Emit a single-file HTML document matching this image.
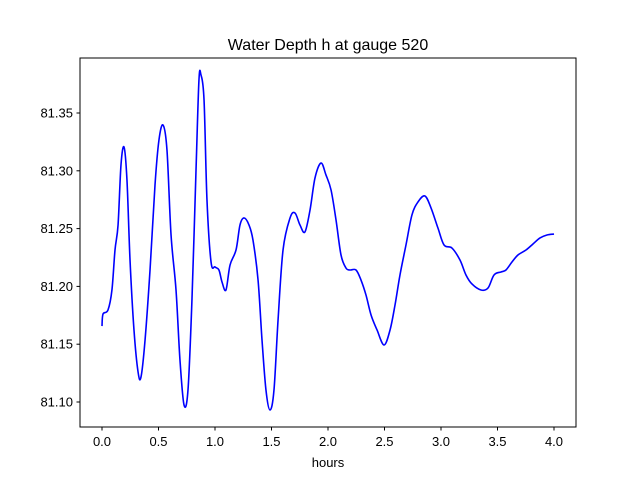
<!DOCTYPE html>
<html><head><meta charset="utf-8"><style>
body{margin:0;background:#fff;font-family:"Liberation Sans","DejaVu Sans",sans-serif;}
svg{display:block}
</style></head><body>
<svg id="chart" width="640" height="480" xmlns="http://www.w3.org/2000/svg">
<rect width="640" height="480" fill="#fff"/>
<text x="328" y="50" font-size="16" text-anchor="middle" fill="#000">Water Depth h at gauge 520</text>
<g id="xticks"></g>
<g id="yticks"></g>
<path id="line" fill="none" stroke="#0000ff" stroke-width="1.6"/>
<rect x="80" y="58" width="496" height="369" fill="none" stroke="#000" stroke-width="1"/>
<text x="328" y="467" font-size="13" text-anchor="middle">hours</text>
</svg>
<script>
const hours=[0,0.009,0.053,0.088,0.115,0.142,0.168,0.195,0.221,0.248,0.283,0.319,0.345,0.381,0.425,0.469,0.504,0.540,0.575,0.611,0.655,0.690,0.726,0.761,0.796,0.832,0.858,0.876,0.903,0.929,0.965,1.000,1.035,1.062,1.097,1.133,1.186,1.221,1.257,1.301,1.336,1.381,1.416,1.451,1.487,1.522,1.558,1.602,1.664,1.708,1.752,1.796,1.841,1.885,1.938,1.982,2.027,2.071,2.115,2.159,2.195,2.248,2.292,2.336,2.381,2.434,2.496,2.549,2.593,2.637,2.690,2.743,2.796,2.858,2.912,2.973,3.027,3.097,3.168,3.221,3.274,3.354,3.416,3.469,3.531,3.575,3.628,3.681,3.752,3.814,3.876,3.938,4.000];
const depth=[81.1657,81.1761,81.1796,81.1969,81.2315,81.2531,81.3050,81.3206,81.2920,81.2228,81.1623,81.1260,81.1216,81.1536,81.2142,81.2877,81.3266,81.3396,81.3180,81.2445,81.1969,81.1363,81.0974,81.1104,81.1882,81.3007,81.3785,81.3829,81.3612,81.2747,81.2211,81.2168,81.2142,81.2038,81.1969,81.2185,81.2315,81.2531,81.2592,81.2531,81.2401,81.2055,81.1536,81.1104,81.0931,81.1104,81.1709,81.2315,81.2592,81.2635,81.2531,81.2471,81.2661,81.2938,81.3067,81.2964,81.2834,81.2574,81.2272,81.2159,81.2142,81.2142,81.2055,81.1926,81.1753,81.1623,81.1493,81.1623,81.1839,81.2099,81.2358,81.2618,81.2730,81.2782,81.2678,81.2505,81.2358,81.2332,81.2228,81.2099,81.2021,81.1969,81.1986,81.2099,81.2125,81.2142,81.2211,81.2272,81.2315,81.2367,81.2419,81.2445,81.2453];
const xTicks=[0,0.5,1,1.5,2,2.5,3,3.5,4];
const xTickLabels=["0.0","0.5","1.0","1.5","2.0","2.5","3.0","3.5","4.0"];
const yTicks=[81.10,81.15,81.20,81.25,81.30,81.35];
const yTickLabels=["81.10","81.15","81.20","81.25","81.30","81.35"];
function sx(h){return 102+h*113;}
function sy(v){return 402-(v-81.10)*1156;}
const NS="http://www.w3.org/2000/svg";
const xg=document.getElementById('xticks'),yg=document.getElementById('yticks');
xTicks.forEach((t,i)=>{
 const l=document.createElementNS(NS,'line');
 l.setAttribute('x1',sx(t));l.setAttribute('x2',sx(t));l.setAttribute('y1',427);l.setAttribute('y2',430.5);l.setAttribute('stroke','#000');
 
 
 xg.appendChild(l);
 const tx=document.createElementNS(NS,'text');
 tx.setAttribute('x',sx(t));tx.setAttribute('y',446);tx.setAttribute('font-size','13');tx.setAttribute('text-anchor','middle');
 tx.textContent=xTickLabels[i];
 
 
 xg.appendChild(tx);
});
yTicks.forEach((t,i)=>{
 const l=document.createElementNS(NS,'line');
 l.setAttribute('x1',76.5);l.setAttribute('x2',80);l.setAttribute('y1',sy(t));l.setAttribute('y2',sy(t));l.setAttribute('stroke','#000');
 
 
 yg.appendChild(l);
 const tx=document.createElementNS(NS,'text');
 tx.setAttribute('x',73);tx.setAttribute('y',sy(t)+4.5);tx.setAttribute('font-size','13');tx.setAttribute('text-anchor','end');
 tx.textContent=yTickLabels[i];
 
 
 yg.appendChild(tx);
});
const pts=hours.map((h,i)=>[sx(h),sy(depth[i])]);
let d='M'+pts[0][0]+','+pts[0][1];
for(let i=0;i<pts.length-1;i++){
 const p0=pts[Math.max(0,i-1)],p1=pts[i],p2=pts[i+1],p3=pts[Math.min(pts.length-1,i+2)];
 const c1x=p1[0]+(p2[0]-p0[0])/6,c1y=p1[1]+(p2[1]-p0[1])/6;
 const c2x=p2[0]-(p3[0]-p1[0])/6,c2y=p2[1]-(p3[1]-p1[1])/6;
 d+=' C'+c1x.toFixed(2)+','+c1y.toFixed(2)+' '+c2x.toFixed(2)+','+c2y.toFixed(2)+' '+p2[0].toFixed(2)+','+p2[1].toFixed(2);
}
document.getElementById('line').setAttribute('d',d);
</script>
</body></html>
